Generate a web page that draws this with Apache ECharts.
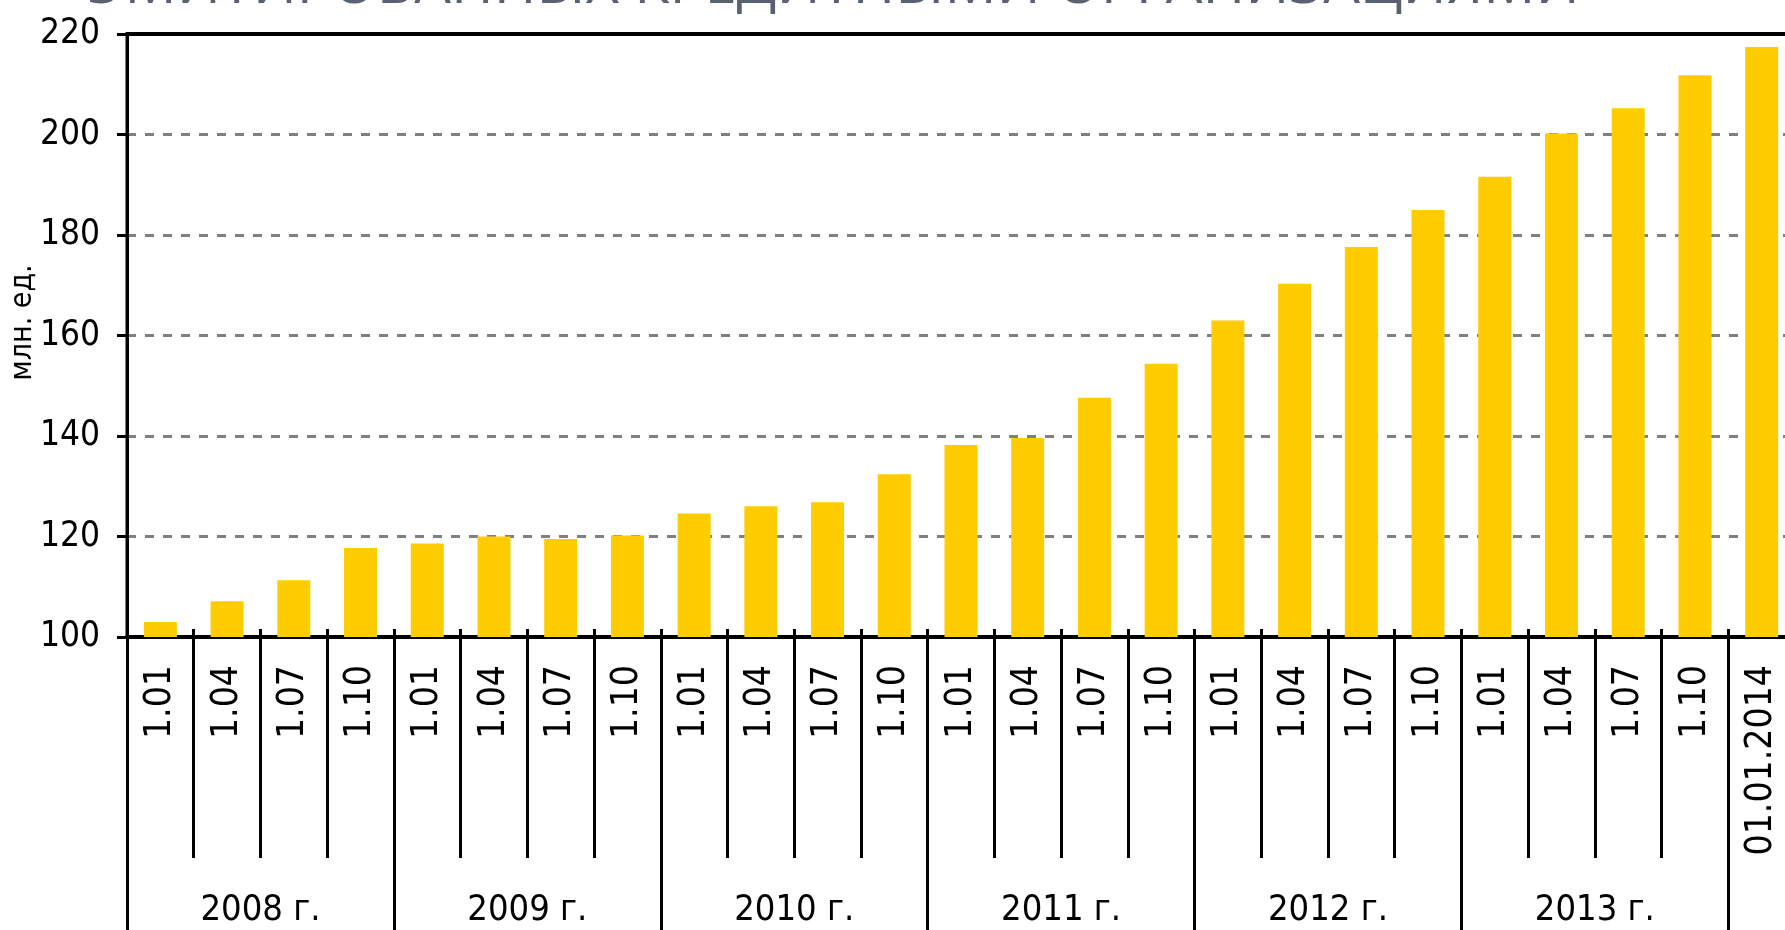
<!DOCTYPE html>
<html>
<head>
<meta charset="utf-8">
<script src="https://cdn.jsdelivr.net/npm/echarts@6.0.0/dist/echarts.min.js"></script>
<style>
  html, body { margin: 0; padding: 0; background: #fff; }
  #chart { width: 1785px; height: 930px; }
</style>
</head>
<body>
<div id="chart"></div>
<script>
// подписи кварталов (нижняя ось)
const quarters = [
  "1.01", "1.04", "1.07", "1.10",
  "1.01", "1.04", "1.07", "1.10",
  "1.01", "1.04", "1.07", "1.10",
  "1.01", "1.04", "1.07", "1.10",
  "1.01", "1.04", "1.07", "1.10",
  "1.01", "1.04", "1.07", "1.10",
  "01.01.2014",
];
const years = ["2008 г.", "2009 г.", "2010 г.", "2011 г.", "2012 г.", "2013 г."];
// количество карт, млн. ед.
const cards = [
  103.0, 107.1, 111.3, 117.7,
  118.6, 120.0, 119.5, 120.2,
  124.6, 126.0, 126.8, 132.4,
  138.2, 139.6, 147.6, 154.4,
  163.0, 170.3, 177.6, 185.0,
  191.6, 200.2, 205.2, 211.8,
  217.4,
];
const yTicks = [100, 120, 140, 160, 180, 200, 220];
const titleText = "ЭМИТИРОВАННЫХ КРЕДИТНЫМИ ОРГАНИЗАЦИЯМИ";

const narrow = '"Liberation Sans Narrow", "Arial Narrow", "DejaVu Sans Condensed", sans-serif';
const perYear = 4;

// границы лет и середины лет на шкале 0..quarters.length
const yearBounds = [];
for (let i = 0; i <= years.length; i++) yearBounds.push(i * perYear);
const yearMids = years.map((y, i) => i * perYear + perYear / 2);

var myChart = echarts.init(document.getElementById("chart"));
var option = {
  animation: false,
  graphic: [
    {
      type: "text",
      left: 88,
      top: -43,
      style: {
        text: titleText,
        font: '58px "Open Sans", "Noto Sans", sans-serif',
        fill: "#5a6272",
      },
    },
  ],
  grid: {
    left: 127,
    top: 34,
    width: 1668,
    bottom: 293,
    show: true,
    borderColor: "#000",
    borderWidth: 3,
    outerBoundsMode: "none",
    containLabel: false,
  },
  yAxis: {
    type: "value",
    min: yTicks[0],
    max: yTicks[yTicks.length - 1],
    interval: yTicks[1] - yTicks[0],
    name: "млн. ед.",
    nameLocation: "middle",
    nameRotate: 90,
    nameGap: 89,
    nameMoveOverlap: false,
    nameTextStyle: {
      fontFamily: narrow,
      fontSize: 30,
      color: "#000",
      padding: [0, 0, 0, 26],
    },
    axisLine: { show: true, lineStyle: { color: "#000", width: 3 } },
    axisTick: { show: true, length: 10, lineStyle: { color: "#000", width: 3 } },
    axisLabel: {
      margin: 27,
      fontFamily: narrow,
      fontSize: 35,
      color: "#000",
    },
    splitLine: {
      show: true,
      lineStyle: { color: "#808080", width: 3, type: [9, 9] },
    },
  },
  xAxis: [
    {
      type: "category",
      data: quarters,
      position: "bottom",
      axisLine: { show: true, lineStyle: { color: "#000", width: 4 } },
      axisTick: {
        show: true,
        inside: true,
        length: 8,
        interval: 0,
        lineStyle: { color: "#000", width: 3 },
      },
      axisLabel: {
        interval: 0,
        rotate: 90,
        margin: 28,
        fontFamily: narrow,
        fontSize: 37,
        color: "#000",
      },
      splitLine: { show: false },
    },
    {
      // разделители кварталов
      type: "category",
      data: quarters,
      position: "bottom",
      axisLine: { show: false },
      axisTick: {
        show: true,
        length: 221,
        interval: 0,
        lineStyle: { color: "#000", width: 3 },
      },
      axisLabel: { show: false },
      splitLine: { show: false },
    },
    {
      // годы
      type: "value",
      min: 0,
      max: quarters.length,
      position: "bottom",
      axisLine: { show: false },
      axisTick: {
        show: true,
        length: 320,
        customValues: yearBounds,
        lineStyle: { color: "#000", width: 3 },
      },
      axisLabel: {
        customValues: yearMids,
        margin: 256,
        fontFamily: narrow,
        fontSize: 36,
        color: "#000",
        formatter: function (v) {
          return years[Math.round((v - perYear / 2) / perYear)];
        },
      },
      splitLine: { show: false },
    },
    {
      // верхняя граница
      type: "category",
      data: quarters,
      position: "top",
      axisLine: { show: true, lineStyle: { color: "#000", width: 4 } },
      axisTick: { show: false },
      axisLabel: { show: false },
      splitLine: { show: false },
    },
  ],
  series: [
    {
      type: "bar",
      xAxisIndex: 0,
      data: cards,
      barWidth: 33,
      itemStyle: { color: "#FFCC00" },
    },
  ],
};
myChart.setOption(option);
</script>
</body>
</html>
